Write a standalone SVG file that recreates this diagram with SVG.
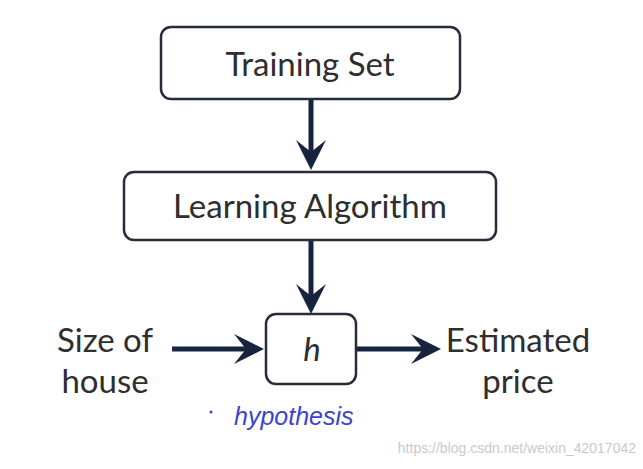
<svg xmlns="http://www.w3.org/2000/svg" width="643" height="469" viewBox="0 0 643 469">
<style>
.box{fill:#fff;stroke:#252d3a;stroke-width:2.5}
.t{font-family:Lato,"Open Sans","Liberation Sans",sans-serif;font-size:33px;fill:#2e2e2e;text-anchor:middle}
.c{stroke:#16243f;stroke-width:5;fill:none}
.ah{fill:#16243f}
</style>
<rect width="643" height="469" fill="#fff"/>
<g id="training-set">
<rect class="box" x="161" y="27" width="299" height="72" rx="10"/>
<text class="t" x="310" y="76">Training Set</text>
</g>
<g id="learning-algorithm">
<rect class="box" x="124" y="172" width="372" height="68" rx="10"/>
<text class="t" x="310" y="218">Learning Algorithm</text>
</g>
<g id="h">
<rect class="box" x="266" y="314" width="90" height="70" rx="10"/>
<text class="t" x="312" y="361" font-style="italic">h</text>
</g>
<g id="size-of-house">
<text class="t" x="105" y="352">Size of</text>
<text class="t" x="105" y="393">house</text>
</g>
<g id="estimated-price">
<text class="t" x="518" y="352">Estimated</text>
<text class="t" x="518" y="393">price</text>
</g>
<g id="connectors">
<line class="c" x1="311" y1="100" x2="311" y2="160"/>
<path class="ah" d="M296,140 L311,170 L326,140 L311,152 Z"/>
<line class="c" x1="311" y1="241" x2="311" y2="303"/>
<path class="ah" d="M296,284 L311,314 L326,284 L311,296 Z"/>
<line class="c" x1="172" y1="349" x2="254" y2="349"/>
<path class="ah" d="M234,334 L264,349 L234,364 L246,349 Z"/>
<line class="c" x1="357" y1="349" x2="431" y2="349"/>
<path class="ah" d="M411,334 L441,349 L411,364 L423,349 Z"/>
</g>
<g id="hypothesis-note">
<circle cx="211" cy="412" r="1.5" fill="#3344cc"/>
<text x="234" y="425" font-family="'Liberation Sans',sans-serif" font-style="italic" font-size="25" fill="#3a44d0">hypothesis</text>
</g>
<text x="636" y="453" text-anchor="end" font-family="'Liberation Sans',sans-serif" font-size="14" fill="#c9c9c9">https://blog.csdn.net/weixin_42017042</text>
</svg>
